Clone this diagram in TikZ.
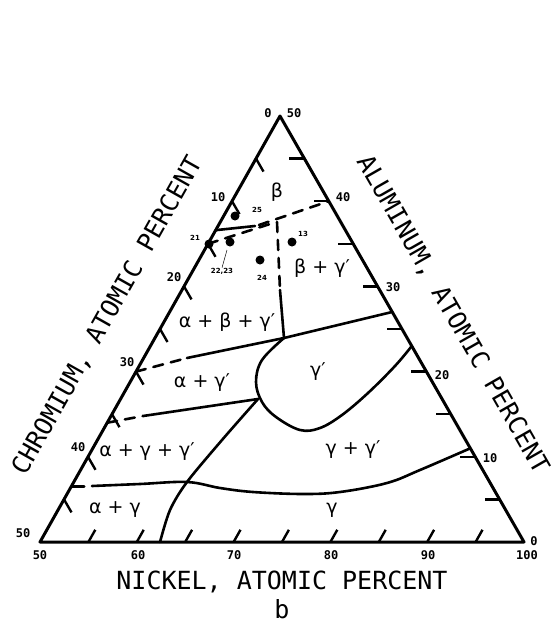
\documentclass[tikz,border=0pt]{standalone}
\usepackage{fontspec}
\setmainfont{DejaVu Sans}
\newfontfamily\monofont{DejaVu Sans Mono}
\usetikzlibrary{calc}
\begin{document}
\begin{tikzpicture}[x=1pt,y=-1pt,
  edge/.style={line width=3pt, line join=round},
  tickline/.style={line width=2.4pt},
  phase/.style={line width=2.6pt, line cap=round, line join=round},
  dashphase/.style={phase, dash pattern=on 10pt off 8pt},
  ticklabel/.style={font=\monofont\bfseries\fontsize{12}{12}\selectfont, inner sep=0pt},
  axistitle/.style={font=\monofont\fontsize{25}{25}\selectfont, inner sep=0pt},
  titleword/.style={axistitle, text height=18pt, text depth=4pt},
  region/.style={font=\fontsize{19}{19}\selectfont, inner sep=0pt},
  sample/.style={circle, fill=black, inner sep=0pt, minimum size=9pt},
  samplelabel/.style={font=\bfseries\fontsize{7}{7}\selectfont, inner sep=0pt}
]
\useasboundingbox (0,0) rectangle (554,626);
\fill[white] (0,0) rectangle (554,626);

% triangle corners
\coordinate (BL) at (40,542);
\coordinate (BR) at (524,542);
\coordinate (AP) at (280,116);

% ticks
\foreach \k in {1,...,9}{
  \draw[tickline] ($(BL)!\k/10!(BR)$) -- ++(6.9,-12.2);
  \draw[tickline] ($(AP)!\k/10!(BL)$) -- ++(7.5,13);
  \draw[tickline] ($(BR)!\k/10!(AP)$) -- ++(-15,0);
}
\draw[edge] (BL) -- (BR) -- (AP) -- cycle;

% key points on the edges
\coordinate (aL) at ($(AP)!0.268!(BL)$);
\coordinate (aR) at ($(BR)!0.8!(AP)$);
\coordinate (bL) at ($(AP)!0.3!(BL)$);
\coordinate (cL) at ($(AP)!0.6!(BL)$);
\coordinate (cR) at ($(BR)!0.54!(AP)$);
\coordinate (gR) at ($(BR)!0.46!(AP)$);
\coordinate (dL) at ($(AP)!0.72!(BL)$);
\coordinate (fL) at ($(AP)!0.87!(BL)$);
\coordinate (fR) at ($(BR)!0.22!(AP)$);
\coordinate (eB) at ($(BL)!0.248!(BR)$);
\coordinate (jA) at (277,222);
\coordinate (jB) at (270,224);
\coordinate (jC) at (284,338);
\coordinate (jD) at (258,399);
\coordinate (jE) at (187,482);

% beta / beta+gamma' boundary
\draw[phase] (aL) -- (255,226);
\draw[dashphase] (259,225) -- (aR);
% alpha+beta+gamma' upper boundary
\draw[dashphase] (bL) -- (jB);
% beta+gamma' / alpha+beta+gamma'
\draw[dashphase] (jA) -- (280,290);
\draw[phase] (280,290) -- (jC);
% alpha+beta+gamma' / alpha+gamma'
\draw[dashphase] (cL) -- (187,358);
\draw[phase] (187,358) -- (250,345) -- (jC) -- (cR);
% gamma' field
\draw[phase] plot[smooth, tension=0.6] coordinates {(jC) (262,360) (256,382) (262,402) (276,417) (300,430) (320,428) (342,415) (368,393) (395,366) (gR)};
% alpha+gamma' / alpha+gamma+gamma'
\draw[dashphase] (dL) -- (143,416);
\draw[phase] (143,416) -- (jD);
% alpha+gamma+gamma' / gamma+gamma'
\draw[phase] plot[smooth, tension=0.5] coordinates {(jD) (222,440) (jE) (170,510) (eB)};
% lower boundary
\draw[phase] (fL) -- ++(13,0);
\draw[phase] plot[smooth, tension=0.6] coordinates {(92,486) (140,484) (jE) (220,488) (253,492) (303,494) (340,492) (387,483) (420,470) (fR)};

% samples
\node[sample] (s25) at (235,216) {};
\node[sample] (s13) at (292,242) {};
\node[sample] (s2223) at (230,242) {};
\node[sample] (s21) at (209,244) {};
\node[sample] (s24) at (260,260) {};
\node[samplelabel] (l25) at (257,210) {25};
\node[samplelabel] (l13) at (303,234) {13};
\node[samplelabel] (l21) at (195,238) {21};
\node[samplelabel] (l2223) at (222,271) {22,23};
\node[samplelabel] (l24) at (262,278) {24};
\draw[line width=0.5pt] (s2223) ++(-3,8) -- (l2223.north);

% phase labels
\node[region] (rb) at (277,192) {β};
\node[region] (rbg) at (322,268) {β + γ′};
\node[region] (rabg) at (227,322) {α + β + γ′};
\node[region] (rag) at (202,383) {α + γ′};
\node[region] (rg1) at (318,372) {γ′};
\node[region] (ragg) at (147,452) {α + γ + γ′};
\node[region] (rgg) at (353,450) {γ + γ′};
\node[region] (rag2) at (115,510) {α + γ};
\node[region] (rgam) at (332,510) {γ};

% tick labels
\node[ticklabel] (b50) at (40,555) {50};
\node[ticklabel] (b60) at (138,555) {60};
\node[ticklabel] (b70) at (234,555) {70};
\node[ticklabel] (b80) at (331,555) {80};
\node[ticklabel] (b90) at (428,555) {90};
\node[ticklabel] (b100) at (527,555) {100};
\node[ticklabel] (c10) at (218,197) {10};
\node[ticklabel] (c20) at (174,277) {20};
\node[ticklabel] (c30) at (127,362) {30};
\node[ticklabel] (c40) at (78,447) {40};
\node[ticklabel] (c50) at (23,533) {50};
\node[ticklabel] (c0) at (268,113) {0};
\node[ticklabel] (a50) at (294,113) {50};
\node[ticklabel] (a40) at (343,197) {40};
\node[ticklabel] (a30) at (393,287) {30};
\node[ticklabel] (a20) at (442,375) {20};
\node[ticklabel] (a10) at (490,458) {10};
\node[ticklabel] (a0) at (534,541) {0};

% axis titles
\node[titleword, rotate=60.6] (tcr1) at (52.6,414.3) {CHROMIUM,};
\node[titleword, rotate=60.6] (tcr2) at (115.4,302.9) {ATOMIC};
\node[titleword, rotate=60.6] (tcr3) at (170.8,204.6) {PERCENT};
\node[titleword, rotate=-60.2] (tal1) at (395.9,217.0) {ALUMINUM,};
\node[titleword, rotate=-60.2] (tal2) at (459.5,328.1) {ATOMIC};
\node[titleword, rotate=-60.2] (tal3) at (515.6,426.0) {PERCENT};
\node[axistitle] (tni) at (282,582) {NICKEL, ATOMIC PERCENT};
\node[axistitle] (tb) at (282,609) {b};
\end{tikzpicture}
\end{document}
